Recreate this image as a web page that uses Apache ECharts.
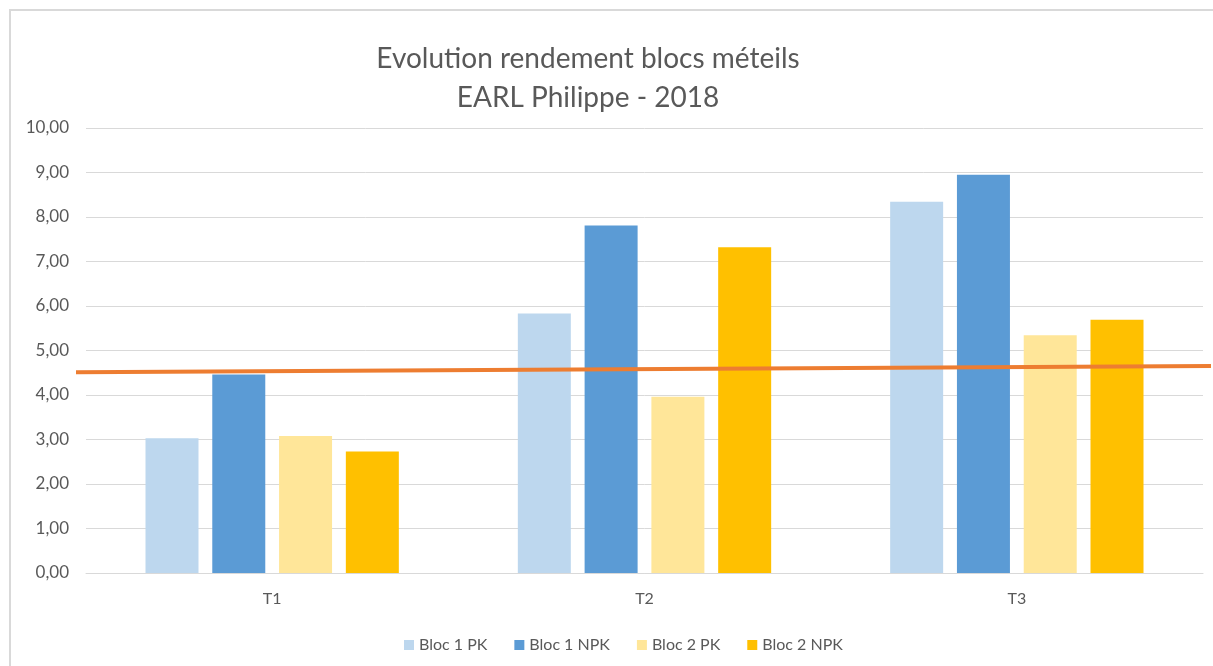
<!DOCTYPE html>
<html>
<head>
<meta charset="utf-8">
<script src="https://cdn.jsdelivr.net/npm/echarts@6/dist/echarts.min.js"></script>
<style>
  html, body { margin: 0; padding: 0; background: #fff; }
  #chart { width: 1213px; height: 666px; }
</style>
</head>
<body>
<div id="chart"></div>
<script>
// categories + series values
const categories = ["T1", "T2", "T3"];
const bloc1PK = [3.03, 5.83, 8.34];
const bloc1NPK = [4.46, 7.81, 8.95];
const bloc2PK = [3.08, 3.96, 5.34];
const bloc2NPK = [2.73, 7.32, 5.69];
// trend line, start / end values
const trendX = [0, 1];
const trendY = [4.51, 4.65];

const FONT = "Lato, 'Open Sans', sans-serif";
const GREY = "#595959";

const chart = echarts.init(document.getElementById("chart"));

const barSeries = (name, data, color) => ({
  name: name,
  type: "bar",
  data: data,
  barWidth: 53,
  barGap: "26%",
  itemStyle: { color: color },
  xAxisIndex: 0,
  yAxisIndex: 0,
});

chart.setOption({
  backgroundColor: "#fff",
  animation: false,
  title: {
    text: "Evolution rendement blocs méteils\nEARL Philippe - 2018",
    left: 583,
    top: 34,
    textAlign: "center",
    textStyle: {
      fontFamily: FONT,
      fontWeight: "normal",
      fontSize: 28,
      lineHeight: 39,
      color: GREY,
    },
  },
  graphic: [
    {
      type: "rect",
      shape: { x: 10, y: 10, width: 1300, height: 700 },
      style: { fill: "none", stroke: "#d9d9d9", lineWidth: 2 },
      silent: true,
      z: -1,
    },
  ],
  legend: {
    data: ["Bloc 1 PK", "Bloc 1 NPK", "Bloc 2 PK", "Bloc 2 NPK"],
    left: 399,
    top: 632,
    icon: "rect",
    itemWidth: 10,
    itemHeight: 10,
    itemGap: 27,
    textStyle: { fontFamily: FONT, fontSize: 16, color: GREY },
  },
  grid: [
    { left: 86, right: 10, top: 128, bottom: 93 },
    { left: 76, right: 2, top: 128, bottom: 93 },
  ],
  xAxis: [
    {
      type: "category",
      gridIndex: 0,
      data: categories,
      axisTick: { show: false },
      axisLine: { lineStyle: { color: "#d9d9d9", width: 1 } },
      axisLabel: {
        color: GREY,
        fontFamily: FONT,
        fontSize: 16,
        margin: 18,
      },
    },
    { type: "value", gridIndex: 1, min: 0, max: 1, show: false },
  ],
  yAxis: [
    {
      type: "value",
      gridIndex: 0,
      min: 0,
      max: 10,
      interval: 1,
      axisLine: { show: false },
      axisTick: { show: false },
      splitLine: { lineStyle: { color: "#d9d9d9", width: 1 } },
      axisLabel: {
        color: GREY,
        fontFamily: FONT,
        fontSize: 17,
        margin: 17,
        formatter: (v) => v.toFixed(2).replace(".", ","),
      },
    },
    { type: "value", gridIndex: 1, min: 0, max: 10, show: false },
  ],
  series: [
    barSeries("Bloc 1 PK", bloc1PK, "#BDD7EE"),
    barSeries("Bloc 1 NPK", bloc1NPK, "#5B9BD5"),
    barSeries("Bloc 2 PK", bloc2PK, "#FFE699"),
    barSeries("Bloc 2 NPK", bloc2NPK, "#FFC000"),
    {
      name: "Tendance",
      type: "line",
      xAxisIndex: 1,
      yAxisIndex: 1,
      data: trendX.map((x, i) => [x, trendY[i]]),
      symbol: "none",
      lineStyle: { color: "#ED7D31", width: 4 },
      z: 5,
    },
  ],
});
</script>
</body>
</html>
